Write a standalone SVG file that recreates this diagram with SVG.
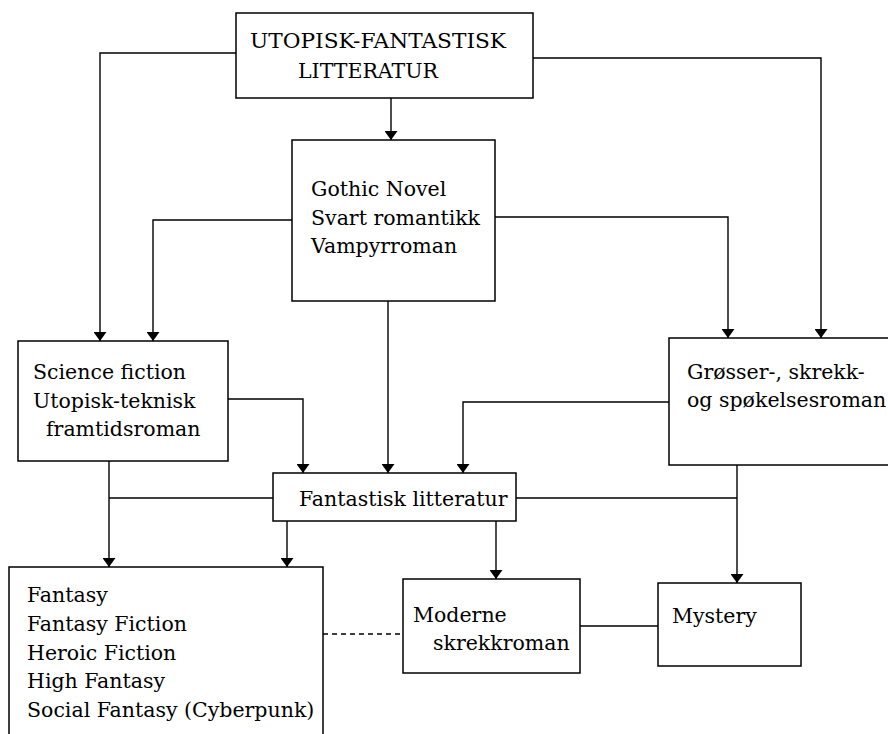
<svg xmlns="http://www.w3.org/2000/svg" width="888" height="734" viewBox="0 0 888 734">
<style>
.box{fill:#fff;stroke:#000;stroke-width:1.5}
.ln{fill:none;stroke:#000;stroke-width:1.4}
.dash{stroke-dasharray:5,4}
text{font-family:"DejaVu Serif","Liberation Serif",serif;font-size:20.5px;fill:#000}
</style>
<defs>
<marker id="ar" markerWidth="9" markerHeight="13" refX="9" refY="6.5" orient="auto" markerUnits="userSpaceOnUse">
<path d="M0,0 L9,6.5 L0,13 Z" fill="#000"/>
</marker>
</defs>
<rect width="888" height="734" fill="#fff"/>
<g id="connectors">
<path class="ln" d="M236,53 H100 V341" marker-end="url(#ar)"/>
<path class="ln" d="M533,58 H821 V338" marker-end="url(#ar)"/>
<path class="ln" d="M391,98 V140" marker-end="url(#ar)"/>
<path class="ln" d="M292,220 H153 V341" marker-end="url(#ar)"/>
<path class="ln" d="M495,217 H728 V338" marker-end="url(#ar)"/>
<path class="ln" d="M228,399 H303 V473" marker-end="url(#ar)"/>
<path class="ln" d="M388,301 V473" marker-end="url(#ar)"/>
<path class="ln" d="M669,402 H463 V473" marker-end="url(#ar)"/>
<path class="ln" d="M737,465 V583" marker-end="url(#ar)"/>
<path class="ln" d="M516,498 H737"/>
<path class="ln" d="M109,461 V567" marker-end="url(#ar)"/>
<path class="ln" d="M109,498 H273"/>
<path class="ln" d="M287,521 V567" marker-end="url(#ar)"/>
<path class="ln" d="M496,521 V579" marker-end="url(#ar)"/>
<path class="ln dash" d="M323,634 H403"/>
<path class="ln" d="M580,626 H658"/>
</g>
<g id="utopisk">
<rect class="box" x="236" y="13" width="297" height="85"/>
<text x="250" y="48" textLength="256" lengthAdjust="spacingAndGlyphs">UTOPISK-FANTASTISK</text>
<text x="298" y="78">LITTERATUR</text>
</g>
<g id="gothic">
<rect class="box" x="292" y="140" width="203" height="161"/>
<text x="311" y="196">Gothic Novel</text>
<text x="311" y="225">Svart romantikk</text>
<text x="311" y="253">Vampyrroman</text>
</g>
<g id="scifi">
<rect class="box" x="18" y="341" width="210" height="120"/>
<text x="33" y="379">Science fiction</text>
<text x="33" y="408">Utopisk-teknisk</text>
<text x="46" y="436">framtidsroman</text>
</g>
<g id="grosser">
<rect class="box" x="669" y="338" width="225" height="127"/>
<text x="687" y="379">Grøsser-, skrekk-</text>
<text x="687" y="407">og spøkelsesroman</text>
</g>
<g id="fantastisk">
<rect class="box" x="273" y="473" width="243" height="48"/>
<text x="299" y="506">Fantastisk litteratur</text>
</g>
<g id="fantasy">
<rect class="box" x="9" y="567" width="314" height="180"/>
<text x="27" y="602">Fantasy</text>
<text x="27" y="631">Fantasy Fiction</text>
<text x="27" y="660">Heroic Fiction</text>
<text x="27" y="688">High Fantasy</text>
<text x="27" y="717">Social Fantasy (Cyberpunk)</text>
</g>
<g id="moderne">
<rect class="box" x="403" y="579" width="177" height="94"/>
<text x="413" y="622">Moderne</text>
<text x="433" y="650">skrekkroman</text>
</g>
<g id="mystery">
<rect class="box" x="658" y="583" width="143" height="83"/>
<text x="672" y="623">Mystery</text>
</g>
</svg>
